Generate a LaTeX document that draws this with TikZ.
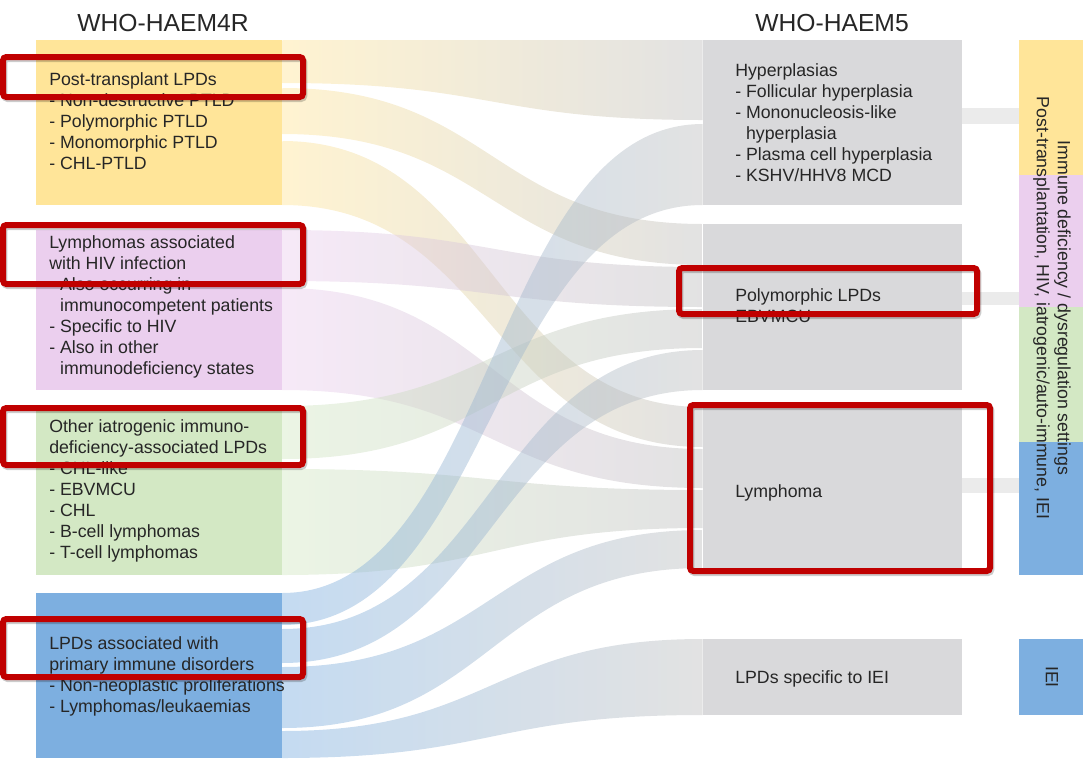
\documentclass[tikz,border=0pt]{standalone}
\usepackage{fontspec}
\setmainfont{Liberation Sans}
\usetikzlibrary{fit}

\definecolor{ptldyellow}{HTML}{FFE599}
\definecolor{hivpink}{HTML}{EBCFEE}
\definecolor{iatrogreen}{HTML}{D3E8C4}
\definecolor{pidblue}{HTML}{7DAFE0}
\definecolor{haemgray}{HTML}{D9D9DB}
\definecolor{markred}{HTML}{C00000}

\newcommand\flow[7]{%
  \shade[left color=#7, right color=black!25, fill opacity=.45]
    (#1.east |- 0,#2) .. controls (492,#2) and (492,#5) .. (#4.west |- 0,#5)
    -- (#4.west |- 0,#6) .. controls (492,#6) and (492,#3) .. (#1.east |- 0,#3) -- cycle;}

\begin{document}
\begin{tikzpicture}[x=0.75pt, y=-0.75pt,
    box/.style={inner sep=0pt, fill=#1},
    txt/.style={inner sep=0pt, anchor=north west, align=left, text=black!85,
      font=\fontsize{13.3}{15.75}\selectfont},
    title/.style={inner sep=0pt, text=black!85, font=\fontsize{18.5}{22}\selectfont},
    markbox/.style={draw=markred, line width=4.5pt, rounded corners=2.5pt, inner sep=0pt,
      preaction={draw=black, draw opacity=.2, transform canvas={shift={(1pt,-1.5pt)}}}}]
  \useasboundingbox (0,0) rectangle (1083,758);

  \node[box=ptldyellow, fit={(36,40) (282,205)}] (ptld) {};
  \node[box=hivpink, fit={(36,230) (282,390)}] (hiv) {};
  \node[box=iatrogreen, fit={(36,405) (282,575)}] (iatro) {};
  \node[box=pidblue, fit={(36,593) (282,758)}] (pid) {};

  \node[box=haemgray, fit={(703,40) (962,205)}] (hyp) {};
  \node[box=haemgray, fit={(703,224) (962,390)}] (poly) {};
  \node[box=haemgray, fit={(703,407) (962,568)}] (lymph) {};
  \node[box=haemgray, fit={(703,639) (962,715)}] (iei) {};

  \node[box=ptldyellow, fit={(1019,40) (1083,175)}] (barptld) {};
  \node[box=hivpink, fit={(1019,175) (1083,307)}] (barhiv) {};
  \node[box=iatrogreen, fit={(1019,307) (1083,442)}] (bariatro) {};
  \node[box=pidblue, fit={(1019,442) (1083,575)}] (barpid) {};
  \node[box=pidblue, fit={(1019,639) (1083,715)}] (bariei) {};

  \flow{ptld}{40}{83}{hyp}{40}{120}{ptldyellow}
  \flow{ptld}{88}{134}{poly}{224}{265}{ptldyellow}
  \flow{ptld}{141}{205}{lymph}{407}{447}{ptldyellow}
  \flow{hiv}{230}{281}{poly}{267}{307}{hivpink}
  \flow{hiv}{288}{390}{lymph}{449}{488}{hivpink}
  \flow{iatro}{406}{459}{poly}{309}{348}{iatrogreen}
  \flow{iatro}{469}{575}{lymph}{490}{528}{iatrogreen}
  \flow{pid}{593}{625}{hyp}{124}{205}{pidblue}
  \flow{pid}{629}{663}{poly}{350}{390}{pidblue}
  \flow{pid}{667}{728}{lymph}{530}{568}{pidblue}
  \flow{pid}{731}{758}{iei}{639}{715}{pidblue}

  \fill[black!8] (hyp.east |- 0,108) rectangle (barptld.west |- 0,124);
  \fill[black!8] (poly.east |- 0,292) rectangle (barhiv.west |- 0,305);
  \fill[black!8] (lymph.east |- 0,478) rectangle (bariatro.west |- 0,493);

  \node[title] (haem4) at (163,23) {WHO-HAEM4R};
  \node[title] (haem5) at (832,23) {WHO-HAEM5};

  \node[txt] (ptldtxt) at (49,72) {Post-transplant LPDs\\- Non-destructive PTLD\\- Polymorphic PTLD\\- Monomorphic PTLD\\- CHL-PTLD};
  \node[txt] (hivtxt) at (49,235) {Lymphomas associated\\with HIV infection\\- Also occurring in\\\phantom{- }immunocompetent patients\\- Specific to HIV\\- Also in other\\\phantom{- }immunodeficiency states};
  \node[txt] (iatrotxt) at (49,419) {Other iatrogenic immuno-\\deficiency-associated LPDs\\- CHL-like\\- EBVMCU\\- CHL\\- B-cell lymphomas\\- T-cell lymphomas};
  \node[txt] (pidtxt) at (49,636) {LPDs associated with\\primary immune disorders\\- Non-neoplastic proliferations\\- Lymphomas/leukaemias};

  \node[txt] (hyptxt) at (735,63) {Hyperplasias\\- Follicular hyperplasia\\- Mononucleosis-like\\\phantom{- }hyperplasia\\- Plasma cell hyperplasia\\- KSHV/HHV8 MCD};
  \node[txt] (polytxt) at (735,288) {Polymorphic LPDs\\EBVMCU};
  \node[txt] (lymphtxt) at (735,484) {Lymphoma};
  \node[txt] (ieitxt) at (735,670) {LPDs specific to IEI};

  \node[txt, anchor=center, align=center, rotate=-90] (settingtxt) at (1052,308) {Immune deficiency / dysregulation settings\\Post-transplantation, HIV, iatrogenic/auto-immune, IEI};
  \node[txt, anchor=center, rotate=-90] (ieibartxt) at (1052,677) {IEI};

  \node[markbox, fit={(3,57) (303,97)}] (mark1) {};
  \node[markbox, fit={(3,225) (303,284)}] (mark2) {};
  \node[markbox, fit={(3,408) (303,465)}] (mark3) {};
  \node[markbox, fit={(3,619) (303,677)}] (mark4) {};
  \node[markbox, fit={(679,268) (977,314)}] (mark5) {};
  \node[markbox, fit={(690,405) (990,571)}] (mark6) {};
\end{tikzpicture}
\end{document}
